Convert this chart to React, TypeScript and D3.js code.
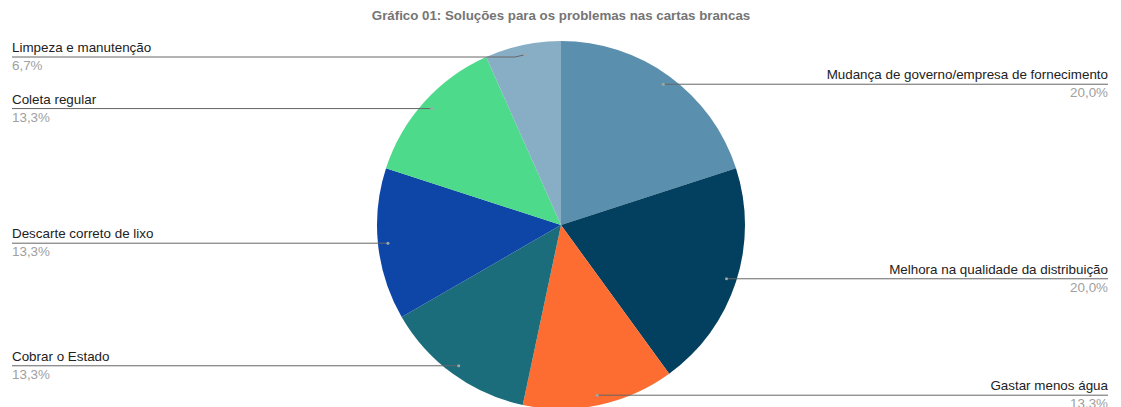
import React from "react";
import * as d3 from "d3";

const labels = [
  "Mudança de governo/empresa de fornecimento",
  "Melhora na qualidade da distribuição",
  "Gastar menos água",
  "Cobrar o Estado",
  "Descarte correto de lixo",
  "Coleta regular",
  "Limpeza e manutenção",
];
const values = [3, 3, 2, 2, 2, 2, 1];
const pctLabels = ["20,0%", "20,0%", "13,3%", "13,3%", "13,3%", "13,3%", "6,7%"];
const colors = ["#5a90ae", "#033f5e", "#fd6c30", "#1c6d7c", "#0e46a8", "#4dda8a", "#88aec6"];
const title = "Gráfico 01: Soluções para os problemas nas cartas brancas";

const W = 1121;
const H = 407;
const cx = 561;
const cy = 225;
const R = 184;
const dotR = 174;
const leftX = 12;
const rightX = 1108;
const minLabelY = 57;

export default function App() {
  const pie = d3.pie<number>().sort(null).value((d) => d)(values);
  const arc = d3.arc<d3.PieArcDatum<number>>().innerRadius(0).outerRadius(R);
  const font = "'Liberation Sans', Arial, sans-serif";
  return (
    <svg width={W} height={H} style={{ position: "absolute", left: 0, top: 0 }}>
      <rect width={W} height={H} fill="#fff" />
      <text x={cx} y={20} textAnchor="middle" fontFamily={font} fontSize={13.3} fontWeight="bold" fill="#757575">
        {title}
      </text>
      <g transform={`translate(${cx},${cy})`}>
        {pie.map((p, i) => (
          <path key={i} d={arc(p) || ""} fill={colors[i]} />
        ))}
      </g>
      {pie.map((p, i) => {
        const mid = (p.startAngle + p.endAngle) / 2;
        const dx = cx + dotR * Math.sin(mid);
        const dy = cy - dotR * Math.cos(mid);
        const right = Math.sin(mid) > 0;
        const ly = Math.max(dy, minLabelY);
        const tx = right ? rightX : leftX;
        const anchor = right ? "end" : "start";
        return (
          <g key={i}>
            <polyline
              points={`${tx},${ly} ${right ? dx + 10 : dx - 10},${ly} ${dx},${dy}`}
              fill="none"
              stroke="#666"
              strokeWidth={1}
            />
            <circle cx={dx} cy={dy} r={1.5} fill="#9aa" />
            <text x={tx} y={ly - 5} textAnchor={anchor} fontFamily={font} fontSize={13.4} fill="#222">
              {labels[i]}
            </text>
            <text x={tx} y={ly + 13} textAnchor={anchor} fontFamily={font} fontSize={13.4} fill="#a0a0a0">
              {pctLabels[i]}
            </text>
          </g>
        );
      })}
    </svg>
  );
}
